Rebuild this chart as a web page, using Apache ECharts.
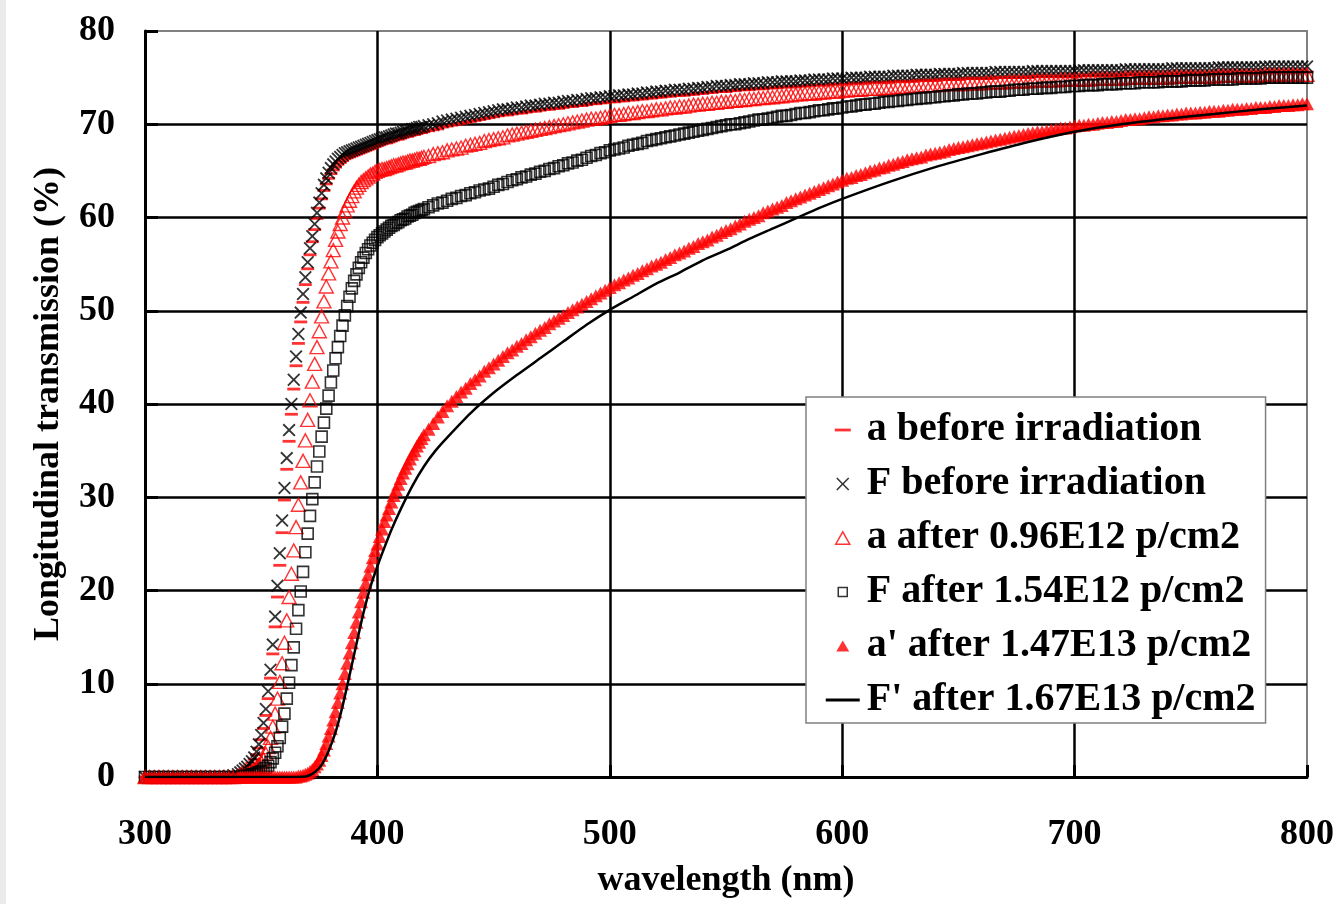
<!DOCTYPE html>
<html>
<head>
<meta charset="utf-8">
<title>Longitudinal transmission</title>
<script src="https://cdn.jsdelivr.net/npm/echarts@6.0.0/dist/echarts.min.js"></script>
<style>
  html, body { margin: 0; padding: 0; }
  body { background: linear-gradient(to right, #ebebeb 6px, #fff 6px); }
  #chart { width: 1342px; height: 904px; }
</style>
</head>
<body>
<div id="chart"></div>
<script>
// wavelength grid (nm) shared by the marker series
const wl = [
  300,302,304,306,308,310,312,314,316,318,320,322,324,326,328,330,332,334,336,338,
  340,341,342,343,344,345,346,347,348,349,350,351,352,353,354,355,356,357,358,359,
  360,361,362,363,364,365,366,367,368,369,370,371,372,373,374,375,376,377,378,379,
  380,381,382,383,384,385,386,387,388,389,390,391,392,393,394,395,396,397,398,399,
  400,401,402,403,404,405,406,407,408,409,410,411,412,413,414,415,416,417,418,419,420,
  422,424,426,428,430,432,434,436,438,440,442,444,446,448,450,452,454,456,458,460,
  462,464,466,468,470,472,474,476,478,480,482,484,486,488,490,492,494,496,498,500,
  502,504,506,508,510,512,514,516,518,520,522,524,526,528,530,532,534,536,538,540,
  542,544,546,548,550,552,554,556,558,560,562,564,566,568,570,572,574,576,578,580,
  582,584,586,588,590,592,594,596,598,600,602,604,606,608,610,612,614,616,618,620,
  622,624,626,628,630,632,634,636,638,640,642,644,646,648,650,652,654,656,658,660,
  662,664,666,668,670,672,674,676,678,680,682,684,686,688,690,692,694,696,698,700,
  702,704,706,708,710,712,714,716,718,720,722,724,726,728,730,732,734,736,738,740,
  742,744,746,748,750,752,754,756,758,760,762,764,766,768,770,772,774,776,778,780,
  782,784,786,788,790,792,794,796,798,800
];

// a before irradiation (%)
const aBefore = [
  0,0,0,0,0,0,0,0,0,0,0,0,0,0,0,0,0,0,0.1,0.1,
  0.2,0.4,0.6,0.8,1.0,1.2,1.5,1.9,2.4,3.1,
  4.0,5.2,6.6,8.4,10.6,13.2,16.1,19.3,22.7,26.2,
  29.7,33.0,36.0,38.9,41.6,44.1,46.5,48.8,50.9,52.8,
  54.5,56.0,57.4,58.7,59.9,61.0,62.0,62.9,63.6,64.2,
  64.7,65.1,65.4,65.7,65.9,66.1,66.3,66.4,66.5,66.6,
  66.7,66.8,66.9,67.0,67.1,67.2,67.3,67.4,67.5,67.6,
  67.7,67.8,67.9,68.0,68.0,68.1,68.2,68.3,68.4,68.4,
  68.5,68.6,68.7,68.7,68.8,68.9,68.9,69.0,69.1,69.1,69.2,
  69.3,69.4,69.5,69.7,69.8,69.9,70.0,70.1,70.2,70.3,
  70.4,70.5,70.6,70.7,70.8,70.9,71.0,71.0,71.1,71.2,
  71.2,71.3,71.4,71.4,71.5,71.6,71.6,71.7,71.7,71.8,
  71.9,71.9,72.0,72.0,72.1,72.2,72.2,72.3,72.3,72.4,
  72.4,72.5,72.5,72.6,72.6,72.7,72.7,72.8,72.8,72.9,
  72.9,73.0,73.0,73.1,73.1,73.1,73.2,73.2,73.3,73.3,
  73.4,73.4,73.5,73.5,73.5,73.6,73.6,73.7,73.7,73.7,
  73.8,73.8,73.8,73.9,73.9,73.9,74.0,74.0,74.0,74.0,
  74.1,74.1,74.1,74.2,74.2,74.2,74.2,74.3,74.3,74.3,
  74.3,74.4,74.4,74.4,74.4,74.5,74.5,74.5,74.5,74.5,
  74.6,74.6,74.6,74.6,74.6,74.7,74.7,74.7,74.7,74.7,
  74.8,74.8,74.8,74.8,74.8,74.9,74.9,74.9,74.9,74.9,
  74.9,74.9,75.0,75.0,75.0,75.0,75.0,75.0,75.0,75.0,
  75.1,75.1,75.1,75.1,75.1,75.1,75.1,75.1,75.1,75.1,
  75.2,75.2,75.2,75.2,75.2,75.2,75.2,75.2,75.2,75.2,
  75.3,75.3,75.3,75.3,75.3,75.3,75.3,75.3,75.3,75.3,
  75.4,75.4,75.4,75.4,75.4,75.4,75.4,75.4,75.4,75.4,
  75.5,75.5,75.5,75.5,75.5,75.5,75.5,75.5,75.5,75.5,
  75.6,75.6,75.6,75.6,75.6,75.6,75.6,75.6,75.6,75.6
];

// F before irradiation (%)
const fBefore = [
  0,0,0,0,0,0,0,0,0,0,0,0,0,0,0,0,0,0,0.1,0.2,
  0.3,0.5,0.7,0.9,1.1,1.4,1.7,2.1,2.7,3.5,
  4.5,5.8,7.3,9.2,11.5,14.2,17.2,20.5,24.0,27.5,
  31.0,34.2,37.2,40.0,42.6,45.1,47.5,49.8,51.8,53.6,
  55.2,56.7,58.0,59.3,60.5,61.6,62.6,63.5,64.2,64.8,
  65.3,65.7,66.0,66.3,66.5,66.7,66.9,67.0,67.1,67.2,
  67.3,67.4,67.5,67.6,67.7,67.8,67.9,68.0,68.1,68.2,
  68.3,68.4,68.5,68.6,68.6,68.7,68.8,68.9,69.0,69.0,
  69.1,69.2,69.3,69.3,69.4,69.5,69.5,69.6,69.7,69.7,69.8,
  69.9,70.0,70.1,70.3,70.4,70.5,70.6,70.7,70.8,70.9,
  71.0,71.1,71.2,71.3,71.4,71.5,71.6,71.6,71.7,71.8,
  71.8,71.9,72.0,72.0,72.1,72.2,72.2,72.3,72.3,72.4,
  72.5,72.5,72.6,72.6,72.7,72.8,72.8,72.9,72.9,73.0,
  73.0,73.1,73.1,73.2,73.2,73.3,73.3,73.4,73.4,73.5,
  73.5,73.6,73.6,73.7,73.7,73.7,73.8,73.8,73.9,73.9,
  74.0,74.0,74.1,74.1,74.1,74.2,74.2,74.3,74.3,74.3,
  74.4,74.4,74.4,74.5,74.5,74.5,74.6,74.6,74.6,74.6,
  74.7,74.7,74.7,74.8,74.8,74.8,74.8,74.9,74.9,74.9,
  74.9,75.0,75.0,75.0,75.0,75.1,75.1,75.1,75.1,75.1,
  75.2,75.2,75.2,75.2,75.2,75.3,75.3,75.3,75.3,75.3,
  75.4,75.4,75.4,75.4,75.4,75.5,75.5,75.5,75.5,75.5,
  75.5,75.5,75.6,75.6,75.6,75.6,75.6,75.6,75.6,75.6,
  75.7,75.7,75.7,75.7,75.7,75.7,75.7,75.7,75.7,75.7,
  75.8,75.8,75.8,75.8,75.8,75.8,75.8,75.8,75.8,75.8,
  75.9,75.9,75.9,75.9,75.9,75.9,75.9,75.9,75.9,75.9,
  76.0,76.0,76.0,76.0,76.0,76.0,76.0,76.0,76.0,76.0,
  76.1,76.1,76.1,76.1,76.1,76.1,76.1,76.1,76.1,76.1,
  76.2,76.2,76.2,76.2,76.2,76.2,76.2,76.2,76.2,76.2
];

// a after 0.96E12 p/cm2 (%)
const aAfter = [
  0,0,0,0,0,0,0,0,0,0,0,0,0,0,0,0,0,0,0,0,
  0.1,0.1,0.2,0.2,0.3,0.4,0.6,0.8,1.0,1.3,
  1.6,1.9,2.5,3.2,4.2,5.4,6.8,8.4,10.2,12.2,
  14.4,16.8,19.3,21.8,24.3,26.8,29.2,31.6,33.9,36.1,
  38.3,40.4,42.4,44.3,46.1,47.8,49.4,51.0,52.6,54.0,
  55.3,56.5,57.6,58.5,59.3,60.0,60.7,61.3,61.8,62.3,
  62.8,63.2,63.5,63.8,64.0,64.2,64.4,64.6,64.7,64.9,
  65.0,65.1,65.2,65.2,65.3,65.4,65.5,65.6,65.6,65.7,
  65.8,65.9,65.9,66.0,66.1,66.1,66.2,66.3,66.3,66.4,66.5,
  66.6,66.8,66.9,67.0,67.2,67.3,67.4,67.5,67.7,67.8,
  67.9,68.0,68.2,68.3,68.4,68.5,68.6,68.8,68.9,69.0,
  69.1,69.2,69.3,69.4,69.5,69.6,69.7,69.8,69.9,70.0,
  70.1,70.2,70.3,70.4,70.5,70.6,70.6,70.7,70.8,70.9,
  71.0,71.0,71.1,71.2,71.2,71.3,71.4,71.4,71.5,71.6,
  71.6,71.7,71.8,71.8,71.9,71.9,72.0,72.1,72.1,72.2,
  72.2,72.3,72.3,72.4,72.4,72.5,72.5,72.6,72.6,72.7,
  72.7,72.8,72.8,72.9,72.9,73.0,73.0,73.1,73.1,73.2,
  73.2,73.3,73.3,73.3,73.4,73.4,73.5,73.5,73.5,73.6,
  73.6,73.7,73.7,73.7,73.8,73.8,73.8,73.8,73.9,73.9,
  73.9,74.0,74.0,74.0,74.1,74.1,74.1,74.2,74.2,74.2,
  74.2,74.3,74.3,74.3,74.3,74.3,74.4,74.4,74.4,74.4,
  74.5,74.5,74.5,74.5,74.5,74.6,74.6,74.6,74.6,74.6,
  74.7,74.7,74.7,74.7,74.7,74.7,74.8,74.8,74.8,74.8,
  74.8,74.8,74.8,74.9,74.9,74.9,74.9,74.9,74.9,74.9,
  75.0,75.0,75.0,75.0,75.0,75.0,75.0,75.0,75.0,75.0,
  75.1,75.1,75.1,75.1,75.1,75.1,75.1,75.1,75.1,75.1,
  75.2,75.2,75.2,75.2,75.2,75.2,75.2,75.2,75.2,75.2,
  75.3,75.3,75.3,75.3,75.3,75.3,75.3,75.3,75.3,75.3
];

// F after 1.54E12 p/cm2 (%)
const fAfter = [
  0,0,0,0,0,0,0,0,0,0,0,0,0,0,0,0,0,0,0,0,
  0.0,0.0,0.1,0.1,0.1,0.2,0.3,0.3,0.4,0.5,
  0.6,0.8,1.0,1.2,1.6,2.0,2.6,3.3,4.2,5.4,
  6.8,8.4,10.1,12.0,13.9,15.9,17.9,19.9,22.0,24.1,
  26.1,28.0,29.8,31.6,33.3,34.9,36.5,38.0,39.5,40.9,
  42.3,43.6,44.9,46.1,47.3,48.4,49.5,50.5,51.5,52.4,
  53.2,53.9,54.6,55.2,55.7,56.2,56.6,57.0,57.3,57.6,
  57.9,58.1,58.3,58.5,58.7,58.9,59.1,59.2,59.4,59.5,
  59.7,59.8,59.9,60.1,60.2,60.3,60.5,60.6,60.7,60.8,60.9,
  61.1,61.3,61.5,61.6,61.8,62.0,62.1,62.3,62.4,62.6,
  62.7,62.9,63.0,63.1,63.3,63.5,63.6,63.8,64.0,64.1,
  64.3,64.4,64.6,64.7,64.9,65.0,65.2,65.3,65.5,65.6,
  65.8,65.9,66.1,66.2,66.4,66.6,66.7,66.9,67.0,67.2,
  67.3,67.4,67.5,67.7,67.8,67.9,68.0,68.2,68.3,68.4,
  68.5,68.6,68.7,68.8,68.9,69.0,69.1,69.2,69.3,69.4,
  69.5,69.6,69.7,69.8,69.9,70.0,70.0,70.1,70.2,70.3,
  70.4,70.5,70.5,70.6,70.7,70.8,70.9,70.9,71.0,71.1,
  71.2,71.2,71.3,71.4,71.5,71.5,71.6,71.7,71.7,71.8,
  71.9,71.9,72.0,72.1,72.1,72.2,72.2,72.3,72.4,72.4,
  72.5,72.5,72.6,72.6,72.7,72.7,72.8,72.8,72.9,72.9,
  73.0,73.0,73.1,73.1,73.2,73.2,73.3,73.3,73.3,73.4,
  73.4,73.5,73.5,73.5,73.6,73.6,73.7,73.7,73.7,73.8,
  73.8,73.8,73.9,73.9,73.9,74.0,74.0,74.0,74.1,74.1,
  74.1,74.2,74.2,74.2,74.2,74.3,74.3,74.3,74.3,74.4,
  74.4,74.4,74.4,74.5,74.5,74.5,74.5,74.5,74.6,74.6,
  74.6,74.6,74.6,74.7,74.7,74.7,74.7,74.7,74.8,74.8,
  74.8,74.8,74.8,74.8,74.9,74.9,74.9,74.9,74.9,74.9,
  75.0,75.0,75.0,75.0,75.0,75.0,75.0,75.0,75.0,75.0
];

// a' after 1.47E13 p/cm2 (%)
const aPrime = [
  0,0,0,0,0,0,0,0,0,0,0,0,0,0,0,0,0,0,0,0,
  0,0,0,0,0,0,0,0,0,0,
  0,0,0,0,0,0,0,0,0,0,
  0,0,0,0,0,0,0.1,0.1,0.2,0.3,
  0.4,0.6,0.8,1.1,1.4,1.8,2.3,2.9,3.6,4.4,
  5.2,6.1,7.0,8.0,9.0,10.0,11.1,12.2,13.3,14.4,
  15.5,16.6,17.7,18.8,19.8,20.8,21.7,22.6,23.5,24.3,
  25.0,25.8,26.6,27.4,28.1,28.8,29.5,30.2,30.8,31.4,
  32.0,32.6,33.1,33.6,34.1,34.6,35.0,35.5,35.9,36.3,36.7,
  37.3,37.9,38.6,39.2,39.8,40.3,40.8,41.3,41.7,42.2,
  42.6,43.0,43.5,43.9,44.3,44.7,45.1,45.5,45.8,46.2,
  46.5,46.9,47.2,47.6,47.9,48.2,48.6,48.9,49.2,49.5,
  49.8,50.1,50.4,50.7,51.0,51.3,51.6,51.9,52.2,52.5,
  52.8,53.0,53.3,53.5,53.8,54.0,54.3,54.5,54.8,55.0,
  55.2,55.5,55.7,56.0,56.2,56.4,56.7,56.9,57.2,57.4,
  57.6,57.9,58.1,58.4,58.6,58.8,59.1,59.3,59.6,59.8,
  60.0,60.2,60.5,60.7,60.9,61.1,61.3,61.6,61.8,62.0,
  62.2,62.4,62.6,62.8,63.0,63.2,63.4,63.6,63.8,64.0,
  64.2,64.3,64.5,64.6,64.8,65.0,65.1,65.3,65.4,65.6,
  65.7,65.9,66.0,66.2,66.3,66.4,66.5,66.7,66.8,66.9,
  67.0,67.1,67.3,67.4,67.5,67.6,67.7,67.8,67.9,68.0,
  68.1,68.2,68.3,68.4,68.5,68.6,68.7,68.8,68.9,69.0,
  69.1,69.2,69.2,69.3,69.4,69.5,69.6,69.6,69.7,69.8,
  69.9,69.9,70.0,70.0,70.1,70.2,70.2,70.3,70.3,70.4,
  70.5,70.5,70.6,70.6,70.7,70.8,70.8,70.9,70.9,71.0,
  71.0,71.1,71.1,71.2,71.2,71.2,71.3,71.3,71.4,71.4,
  71.4,71.5,71.5,71.6,71.6,71.6,71.7,71.7,71.8,71.8,
  71.8,71.9,71.9,72.0,72.0,72.0,72.1,72.1,72.2,72.2
];

// F' after 1.67E13 p/cm2 (solid line, own sampling)
const fPrimeWl = [300,340,365,370,373,376,379,382,385,388,391,394,397,400,403,406,410,415,420,425,
  430,440,450,460,470,480,490,500,510,520,530,540,550,560,570,580,590,600,620,640,660,680,700,720,740,760,780,800];
const fPrime = [0,0,0,0.1,0.5,1.3,2.8,4.8,7.6,10.9,14.3,17.6,20.4,22.6,24.6,26.5,28.7,31.2,33.3,35.0,
  36.4,39.0,41.2,43.1,44.9,46.7,48.5,50.1,51.5,52.9,54.1,55.4,56.5,57.7,58.8,59.9,61.0,62.0,63.8,65.4,66.8,68.1,69.2,70.0,70.6,71.1,71.6,72.0];

const xTicks = { min: 300, max: 800, step: 100 };
const yTicks = { min: 0, max: 80, step: 10 };

const serif = "'Liberation Serif', 'Times New Roman', serif";
const pts = (xs, ys) => xs.map((x, i) => [x, ys[i]]);

const xMark = 'path://M0,1L1,0L5,4L9,0L10,1L6,5L10,9L9,10L5,6L1,10L0,9L4,5Z';
const triMark = 'path://M5,0L10,9L0,9Z';
const sqMark = 'path://M0,0H10V10H0Z';

const chart = echarts.init(document.getElementById('chart'));
chart.setOption({
  animation: false,
  grid: { left: 145, right: 35, top: 31, bottom: 124, show: true, borderColor: '#808080', borderWidth: 2 },
  xAxis: {
    type: 'value', min: xTicks.min, max: xTicks.max, interval: xTicks.step,
    name: 'wavelength (nm)', nameLocation: 'middle', nameGap: 86,
    nameTextStyle: { fontFamily: serif, fontWeight: 'bold', fontSize: 36, color: '#000' },
    axisLine: { lineStyle: { color: '#000', width: 3 } },
    axisTick: { inside: true, length: 12, lineStyle: { color: '#000', width: 3 } },
    axisLabel: { fontFamily: serif, fontWeight: 'bold', fontSize: 36, color: '#000', margin: 40 },
    splitLine: { show: true, showMinLine: false, showMaxLine: false, lineStyle: { color: '#000', width: 2.5 } }
  },
  yAxis: {
    type: 'value', min: yTicks.min, max: yTicks.max, interval: yTicks.step,
    name: 'Longitudinal transmission (%)', nameLocation: 'middle', nameGap: 78,
    nameTextStyle: { fontFamily: serif, fontWeight: 'bold', fontSize: 36, color: '#000' },
    axisLine: { show: true, lineStyle: { color: '#000', width: 3 } },
    axisTick: { show: true, inside: true, length: 13, lineStyle: { color: '#000', width: 3 } },
    axisLabel: { fontFamily: serif, fontWeight: 'bold', fontSize: 36, color: '#000', margin: 30 },
    splitLine: { show: true, showMinLine: false, showMaxLine: false, lineStyle: { color: '#000', width: 2.5 } }
  },
  legend: {
    orient: 'vertical', left: 806, top: 397,
    padding: [13, 10, 3, 17], itemWidth: 38, itemHeight: 14, itemGap: 14,
    backgroundColor: '#fff', borderColor: '#808080', borderWidth: 1.5,
    selectedMode: false,
    textStyle: { fontFamily: serif, fontWeight: 'bold', fontSize: 40, lineHeight: 40, color: '#000' },
    data: [
      { name: 'a before irradiation', icon: 'path://M0,0M38,14M11,5.6h16v2.8h-16z' },
      { name: 'F before irradiation',
        icon: 'path://M0,0M38,14M12.5,1.6L13.6,0.5L19,5.9L24.4,0.5L25.5,1.6L20.1,7L25.5,12.4L24.4,13.5L19,8.1L13.6,13.5L12.5,12.4L17.9,7Z' },
      { name: 'a after 0.96E12 p/cm2', icon: 'path://M0,0M38,14M19,0.8L26,13.2L12,13.2Z',
        itemStyle: { borderWidth: 1.5 } },
      { name: 'F after 1.54E12 p/cm2', icon: 'path://M0,0M38,14M14.5,2.5h9v9h-9z',
        itemStyle: { borderWidth: 1.5 } },
      { name: "a' after 1.47E13 p/cm2", icon: 'path://M0,0M38,14M19,1.5L25.5,12.5L12.5,12.5Z' },
      { name: "F' after 1.67E13 p/cm2", icon: 'path://M0,0M38,14M2,5.6h34v2.8h-34z',
        itemStyle: { color: '#000' } }
    ]
  },
  series: [
    {
      name: 'a before irradiation', type: 'scatter', silent: true, clip: false,
      data: pts(wl, aBefore), symbol: 'rect', symbolSize: [13, 2.8],
      itemStyle: { color: '#ff0000' }
    },
    {
      name: 'F before irradiation', type: 'scatter', silent: true, clip: false,
      data: pts(wl, fBefore), symbol: xMark, symbolSize: 13,
      itemStyle: { color: '#000' }
    },
    {
      name: 'a after 0.96E12 p/cm2', type: 'scatter', silent: true, clip: false,
      data: pts(wl, aAfter), symbol: triMark, symbolSize: [14, 13],
      itemStyle: { color: 'rgba(0,0,0,0)', borderColor: '#ff0000', borderWidth: 1.4 }
    },
    {
      name: 'F after 1.54E12 p/cm2', type: 'scatter', silent: true, clip: false,
      data: pts(wl, fAfter), symbol: sqMark, symbolSize: 11,
      itemStyle: { color: 'rgba(0,0,0,0)', borderColor: '#000', borderWidth: 1.6 }
    },
    {
      name: "a' after 1.47E13 p/cm2", type: 'scatter', silent: true, clip: false,
      data: pts(wl, aPrime), symbol: 'triangle', symbolSize: [14, 13],
      itemStyle: { color: '#ff0000' }
    },
    {
      name: "F' after 1.67E13 p/cm2", type: 'line', silent: true,
      data: pts(fPrimeWl, fPrime), symbol: 'none', showSymbol: false, smooth: 0.2,
      itemStyle: { color: '#000' },
      lineStyle: { color: '#000', width: 2.5 }
    }
  ]
});
</script>
</body>
</html>
